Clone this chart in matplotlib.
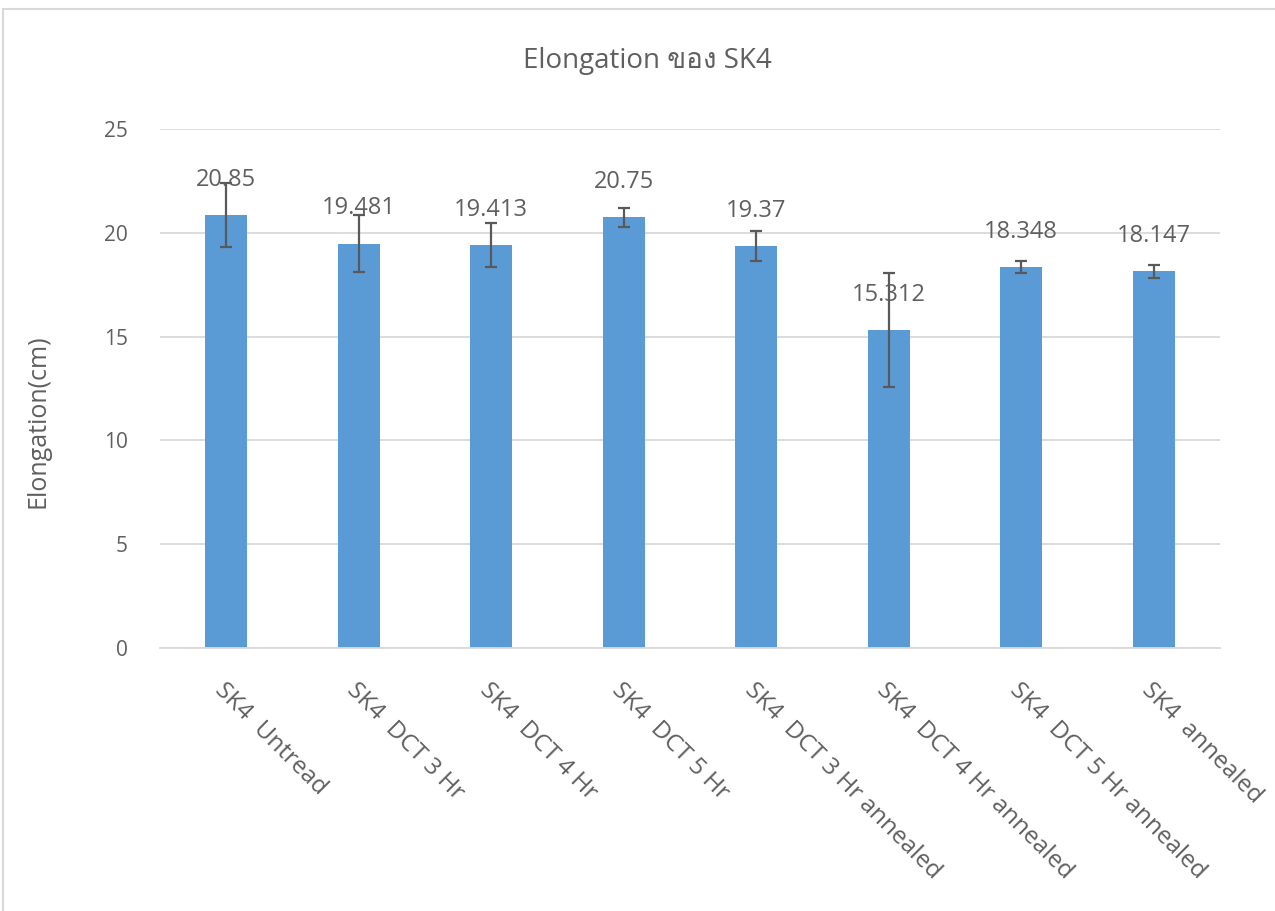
import matplotlib
matplotlib.use("Agg")
import matplotlib.pyplot as plt
from matplotlib import font_manager
from matplotlib.ft2font import FT2Font
from matplotlib.patches import Rectangle

# Data
categories = ["SK4  Untread", "SK4  DCT 3 Hr", "SK4  DCT 4 Hr", "SK4  DCT 5 Hr",
              "SK4  DCT 3 Hr annealed", "SK4  DCT 4 Hr annealed",
              "SK4  DCT 5 Hr annealed", "SK4  annealed"]
elongation = [20.85, 19.481, 19.413, 20.75, 19.37, 15.312, 18.348, 18.147]
elongation_err = [1.54, 1.37, 1.06, 0.45, 0.74, 2.75, 0.28, 0.31]
value_labels = ["20.85", "19.481", "19.413", "20.75", "19.37", "15.312", "18.348", "18.147"]
y_ticks = [0, 5, 10, 15, 20, 25]

title_text = "Elongation ของ SK4"
y_label = "Elongation(cm)"


def find_thai_family():
    for f in font_manager.fontManager.ttflist:
        try:
            cmap = FT2Font(f.fname).get_charmap()
        except Exception:
            continue
        if 0x0E02 in cmap and 0x0E2D in cmap:
            return f.name
    return None


base = "Open Sans"
thai = find_thai_family()
families = [base] + ([thai] if thai else []) + ["DejaVu Sans"]
plt.rcParams["font.family"] = families

text_color = "#5f5f5f"
bar_color = "#5B9BD5"
grid_color = "#D9D9D9"

fig = plt.figure(figsize=(12.75, 9.11), dpi=100)
ax = fig.add_axes([160 / 1275, 1 - 648 / 911, 1060 / 1275, 519 / 911])

x = list(range(len(categories)))
ax.bar(x, elongation, width=0.32, color=bar_color, zorder=2)
ax.errorbar(x, elongation, yerr=elongation_err, fmt="none", ecolor="#595959",
            elinewidth=1.6, capsize=4.5, capthick=1.6, zorder=3)

for xi, v, lab in zip(x, elongation, value_labels):
    ax.annotate(lab, (xi, v), xytext=(0, 21), textcoords="offset points",
                ha="center", va="baseline", fontsize=17, color=text_color, zorder=4)

ax.set_xlim(-0.5, len(categories) - 0.5)
ax.set_ylim(0, 25)
ax.set_yticks(y_ticks)
ax.set_yticklabels([str(t) for t in y_ticks], fontsize=15, color=text_color)
ax.yaxis.grid(True, color=grid_color, linewidth=1.3, zorder=0)
ax.set_axisbelow(True)
ax.tick_params(axis="y", length=0, pad=23)
ax.tick_params(axis="x", length=0, pad=22)

ax.set_xticks(x)
ax.set_xticklabels(categories, rotation=-45, ha="left", va="top",
                   rotation_mode="anchor", fontsize=17.5, color=text_color)

for side in ["top", "right", "left"]:
    ax.spines[side].set_visible(False)
ax.spines["bottom"].set_color(grid_color)
ax.spines["bottom"].set_linewidth(1.3)

ax.set_ylabel(y_label, fontsize=18, color=text_color)
ax.yaxis.set_label_coords(-122 / 1060, (648 - 421) / 519, transform=ax.transAxes)
ax.yaxis.label.set_va("center")

fig.text(0.5 * (519 + 775) / 1275, 1 - 61 / 911, title_text, ha="center", va="center",
         fontsize=20, color=text_color)

# chart-area border
fig.patches.append(Rectangle((3 / 1275, -0.2), 1.5, 1.2 - 8.5 / 911, transform=fig.transFigure,
                             fill=False, edgecolor="#D9D9D9", linewidth=1.5))

fig.savefig("out.png", dpi=100, facecolor="white")
